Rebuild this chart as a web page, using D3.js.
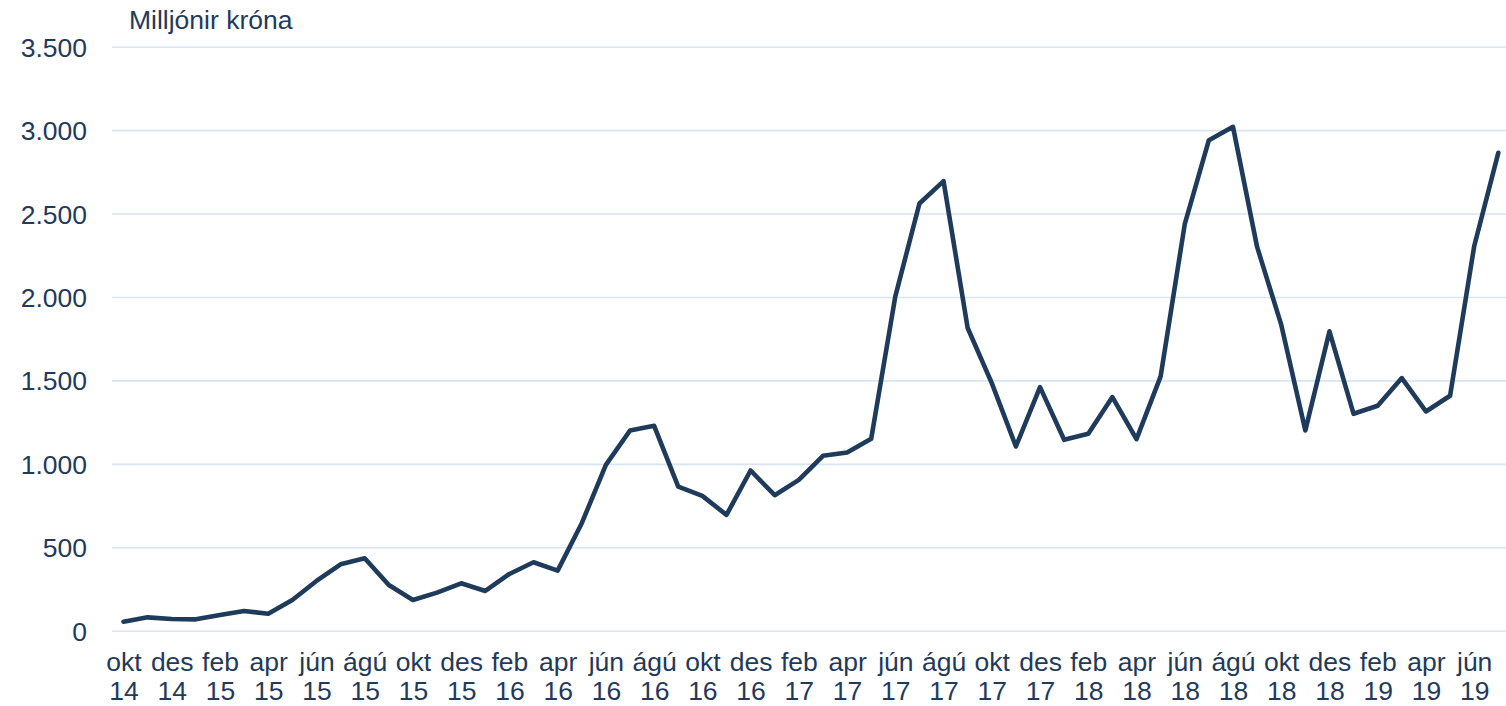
<!DOCTYPE html>
<html>
<head>
<meta charset="utf-8">
<style>
  body { margin: 0; background: #fff; }
  text { font-family: "Liberation Sans", Arial, sans-serif; fill: #1f3a5a; }
</style>
<title>Milljónir króna</title>
</head>
<body>
<script src="https://cdn.jsdelivr.net/npm/d3@7"></script>
<script>
  // monthly series, okt 2014 - júl 2019
  var monthNames = ["jan","feb","mar","apr","maí","jún","júl","ágú","sep","okt","nóv","des"];
  var months = [];
  for (var i = 0; i < 58; i++) {
    var m = (9 + i) % 12, yr = 14 + Math.floor((9 + i) / 12);
    months.push(monthNames[m] + " " + yr);
  }
  var values = [54, 80, 70, 68, 94, 118, 102, 184, 298, 398,
                434, 274, 184, 228, 284, 238, 340, 410, 360, 644,
                994, 1200, 1228, 864, 808, 694, 960, 812, 904, 1048,
                1068, 1150, 2004, 2560, 2694, 1814, 1484, 1104, 1460, 1144,
                1180, 1400, 1148, 1524, 2436, 2940, 3020, 2300, 1834, 1200,
                1794, 1300, 1348, 1514, 1314, 1408, 2304, 2864];
  var xTicks = months.filter(function(d, i) { return i % 2 === 0; });
  var yTicks = [0, 500, 1000, 1500, 2000, 2500, 3000, 3500];
  var unitLabel = "Milljónir króna";

  var W = 1506, H = 706;
  var plotLeft = 112, plotRight = 1506;
  var fontSize = "26.5px";

  var x = d3.scalePoint().domain(months).range([123.5, 1498.3]);
  var y = d3.scaleLinear().domain([0, 3500]).range([630.7, 46.7]);

  var is = d3.formatLocale({decimal: ",", thousands: ".", grouping: [3], currency: ["", ""]});
  var fmt = is.format(",d");

  var svg = d3.select("body").append("svg")
    .attr("width", W)
    .attr("height", H);

  // y axis + gridlines
  var yAxis = svg.append("g")
    .attr("transform", "translate(" + plotLeft + ",0)")
    .call(d3.axisLeft(y).tickValues(yTicks).tickFormat(fmt)
      .tickSize(-(plotRight - plotLeft)).tickPadding(25));
  yAxis.select(".domain").remove();
  yAxis.selectAll("line").attr("stroke", "#d9e5f2").attr("stroke-width", 1.6);
  yAxis.selectAll("text")
    .attr("font-size", fontSize)
    .attr("dy", "0.36em")
    .style("font-family", "'Liberation Sans', Arial, sans-serif")
    .attr("fill", "#1f3a5a");

  // x axis, two-line labels
  var xAxis = svg.append("g")
    .attr("transform", "translate(0,630.7)")
    .call(d3.axisBottom(x).tickValues(xTicks).tickSize(0).tickPadding(0));
  xAxis.select(".domain").remove();
  xAxis.selectAll("text").each(function(d) {
    var parts = d.split(" ");
    var t = d3.select(this).text(null)
      .attr("y", 0).attr("dy", null)
      .attr("font-size", fontSize)
      .style("font-family", "'Liberation Sans', Arial, sans-serif")
      .attr("fill", "#1f3a5a");
    t.append("tspan").attr("x", 0).attr("y", 40.5).text(parts[0]);
    t.append("tspan").attr("x", 0).attr("y", 69.3).text(parts[1]);
  });

  // unit label
  svg.append("text")
    .attr("x", 129)
    .attr("y", 29)
    .attr("font-size", fontSize)
    .text(unitLabel);

  // the line
  var line = d3.line()
    .x(function(d, i) { return x(months[i]); })
    .y(function(d) { return y(d); });

  svg.append("path")
    .datum(values)
    .attr("d", line)
    .attr("fill", "none")
    .attr("stroke", "#1f3b5b")
    .attr("stroke-width", 4.6)
    .attr("stroke-linejoin", "round")
    .attr("stroke-linecap", "round");
</script>
</body>
</html>
